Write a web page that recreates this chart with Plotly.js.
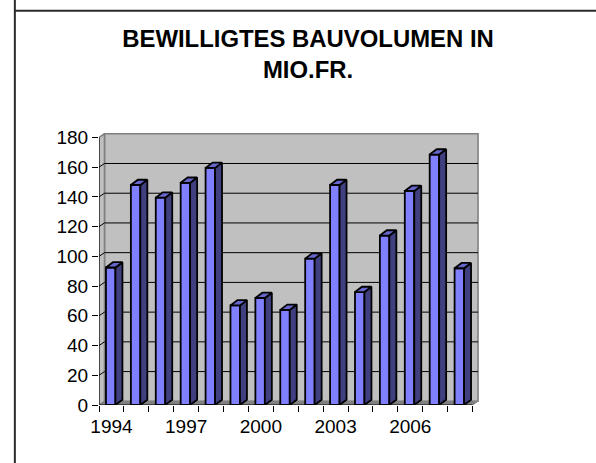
<!DOCTYPE html>
<html><head><meta charset="utf-8">
<script src="https://cdn.plot.ly/plotly-3.0.1.min.js"></script>
<style>html,body{margin:0;padding:0;background:#fff}</style></head>
<body><div id="c" style="width:596px;height:463px"></div>
<script>
const years=[1994,1995,1996,1997,1998,1999,2000,2001,2002,2003,2004,2005,2006,2007,2008];
const values=[92.5,148,139.5,149.5,159.5,67,72,64,98.5,148,76,114,144,168.5,92];
const yTicks=[0,20,40,60,80,100,120,140,160,180];
const labelled=[1994,1997,2000,2003,2006];

const pxX=24.96,pxY=1.489;
const dxWall=5.5/pxX,dyWall=3.7/pxY;
const barW=9.5/pxX,dxBar=7/pxX,dyBar=5.3/pxY,barShift=-0.03;
const idx=years.map((_,i)=>i);
const barX=idx.map(i=>i+barShift);
const xMin=-0.5,xMax=14.5,yMax=180;
const xHi=14.8,yHi=183;

function poly(xs,ys,fill,line,lw){return {type:'scatter',mode:'lines',x:xs,y:ys,fill:'toself',fillcolor:fill,
  line:{color:line,width:lw},hoverinfo:'skip',showlegend:false,cliponaxis:false};}
function seg(xs,ys,col,w){return {type:'scatter',mode:'lines',x:xs,y:ys,line:{color:col,width:w},hoverinfo:'skip',showlegend:false,cliponaxis:false};}
function path(xs,ys,fill,line,lw,close){
  const d=xs.map((x,i)=>(i?'L':'M')+x+','+ys[i]).join(' ')+(close?' Z':'');
  return {type:'path',xref:'x',yref:'y',path:d,fillcolor:fill||'rgba(0,0,0,0)',line:{color:line,width:lw},layer:'below'};
}

const shapes=[];
shapes.push(path([xMin+dxWall,xMax+dxWall,xMax+dxWall,xMin+dxWall],[dyWall,dyWall,yMax+dyWall,yMax+dyWall],'#C0C0C0','#808080',1.6,true));
shapes.push(path([xMin,xMin+dxWall,xMin+dxWall,xMin],[0,dyWall,yMax+dyWall,yMax],'#C0C0C0','#808080',1.6,true));
shapes.push(path([xMin,xMax,xMax+dxWall,xMin+dxWall],[0,0,dyWall,dyWall],'#808080','#808080',1,true));
yTicks.slice(1,-1).forEach(v=>shapes.push(path([xMin,xMin+dxWall,xMax+dxWall],[v,v+dyWall,v+dyWall],null,'#000',1,false)));
// page frame: only top and left edges are inside the picture
shapes.push({type:'line',xref:'paper',yref:'paper',x0:(14.2-98.5)/381.7,x1:(14.2-98.5)/381.7,y0:-58/272,y1:1.5,line:{color:'#2a2a2a',width:2}});
shapes.push({type:'line',xref:'paper',yref:'paper',x0:(14.2-98.5)/381.7,x1:(597-98.5)/381.7,y0:(405-10)/272.5,y1:(405-10)/272.5,line:{color:'#2a2a2a',width:2}});

const traces=[];
traces.push({type:'bar',x:barX,y:values,width:barW,marker:{color:'#8080FF',line:{color:'#000',width:1.8}},hoverinfo:'skip',showlegend:false,cliponaxis:false});
traces.push(seg([xMin,xMin],[0,yMax],'#000',1));
traces.push(seg([xMin,xMax],[0,0],'#000',1));
barX.forEach((c,k)=>{
  const v=values[k],l=c-barW/2,r=c+barW/2;
  traces.push(poly([r,r+dxBar,r+dxBar,r,r],[0,dyBar,v+dyBar,v,0],'#404080','#000',1.8));
  traces.push(poly([l,r,r+dxBar,l+dxBar,l],[v,v,v+dyBar,v+dyBar,v],'#6666CC','#000',1.8));
});

const font='"Liberation Sans",Arial,sans-serif';
const layout={width:596,height:463,paper_bgcolor:'#fff',plot_bgcolor:'rgba(0,0,0,0)',showlegend:false,
 margin:{l:98.5,r:596-(98.5+(xHi-xMin)*pxX),t:405-yHi*pxY,b:463-405,pad:0},
 font:{family:font,color:'#000',size:19},
 title:{text:'<b>BEWILLIGTES BAUVOLUMEN IN<br>MIO.FR.</b>',x:308/596,xanchor:'center',y:0.899,yanchor:'middle',yref:'container',font:{size:23.9,color:'#000',family:font}},
 xaxis:{type:'linear',range:[xMin,xHi],showgrid:false,zeroline:false,showline:false,
  tickmode:'array',tickvals:labelled.map(y=>years.indexOf(y)),ticktext:labelled.map(String),ticks:'',ticklabelstandoff:8,
  minor:{tickmode:'array',tickvals:[...idx.map(i=>i-0.5),xMax],ticks:'outside',ticklen:6,tickwidth:1,tickcolor:'#000',showgrid:false}},
 yaxis:{range:[0,yHi],showgrid:false,zeroline:false,showline:false,tickmode:'array',tickvals:yTicks,ticks:'outside',ticklen:6,tickwidth:1,tickcolor:'#000'},
 shapes:shapes
};
Plotly.newPlot('c',traces,layout,{displayModeBar:false,staticPlot:true});
</script></body></html>
